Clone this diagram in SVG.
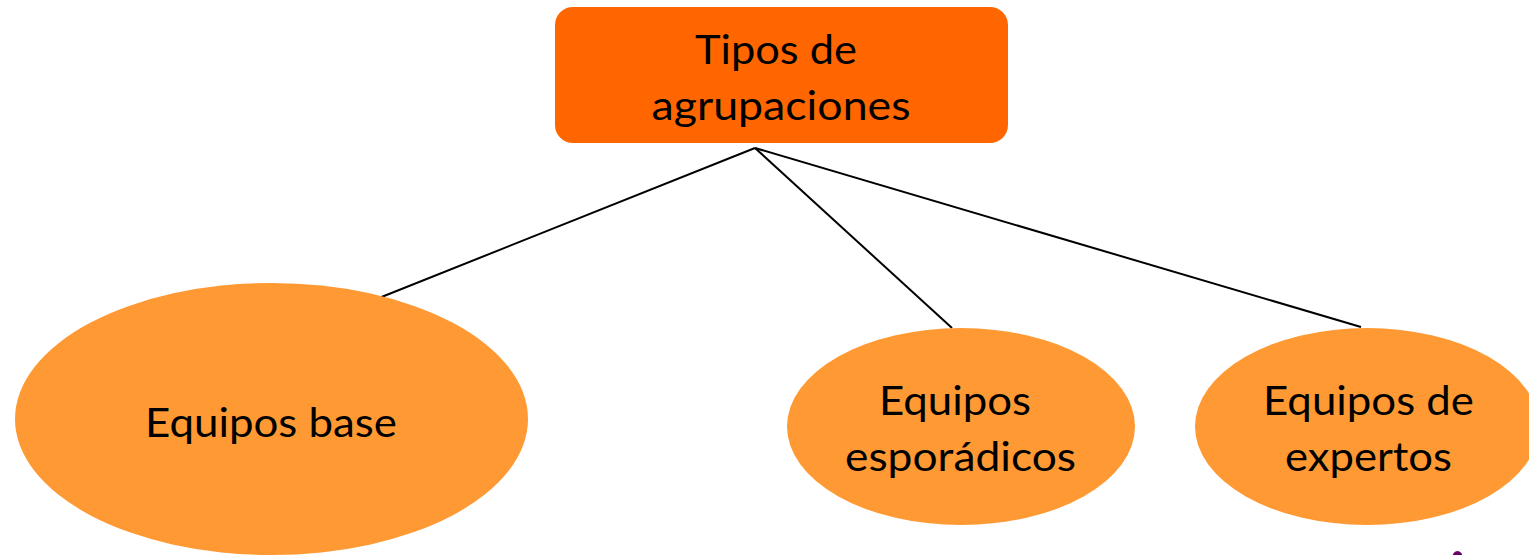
<svg xmlns="http://www.w3.org/2000/svg" width="1529" height="555" viewBox="0 0 1529 555">
<style>
.lbl{font-family:Lato,"Liberation Sans",sans-serif;font-size:40px;fill:#000;text-anchor:middle}
.oval{fill:#FF9933}
.conn{stroke:#000;stroke-width:2;fill:none}
</style>
<rect width="1529" height="555" fill="#fff"/>
<g id="connectors">
<line class="conn" x1="755" y1="148" x2="379" y2="298"/>
<line class="conn" x1="755" y1="148" x2="952" y2="328"/>
<line class="conn" x1="755" y1="148" x2="1361" y2="327"/>
</g>
<g id="root">
<rect x="555" y="7" width="453" height="136" rx="18" fill="#FF6600"/>
<text class="lbl" x="776" y="64" textLength="162" lengthAdjust="spacingAndGlyphs">Tipos de</text>
<text class="lbl" x="781" y="120" textLength="259" lengthAdjust="spacingAndGlyphs">agrupaciones</text>
</g>
<g id="base">
<ellipse class="oval" cx="271.5" cy="419" rx="256.5" ry="136"/>
<text class="lbl" x="271" y="437" textLength="252" lengthAdjust="spacingAndGlyphs">Equipos base</text>
</g>
<g id="esporadicos">
<ellipse class="oval" cx="961" cy="426.5" rx="174" ry="98.5"/>
<text class="lbl" x="955" y="415" textLength="152" lengthAdjust="spacingAndGlyphs">Equipos</text>
<text class="lbl" x="960.5" y="471" textLength="231" lengthAdjust="spacingAndGlyphs">esporádicos</text>
</g>
<g id="expertos">
<ellipse class="oval" cx="1367" cy="426.5" rx="172" ry="98.5"/>
<text class="lbl" x="1368.5" y="415" textLength="211" lengthAdjust="spacingAndGlyphs">Equipos de</text>
<text class="lbl" x="1368.5" y="471" textLength="167" lengthAdjust="spacingAndGlyphs">expertos</text>
</g>
<ellipse cx="1457.5" cy="557" rx="5" ry="6" fill="#660066"/>
</svg>
